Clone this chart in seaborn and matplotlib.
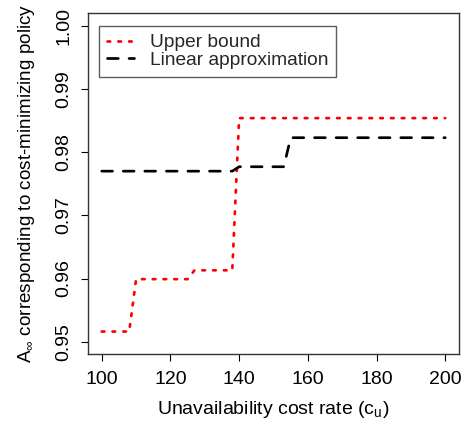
import matplotlib
matplotlib.use("Agg")
import matplotlib.pyplot as plt
import seaborn as sns
import pandas as pd

sns.set_theme(style="ticks")
plt.rcParams['font.family'] = ['Liberation Sans', 'DejaVu Sans']
plt.rcParams['mathtext.fontset'] = 'custom'
plt.rcParams['mathtext.rm'] = 'Liberation Sans'
plt.rcParams['mathtext.it'] = 'Liberation Sans'

# valores (pontos de quebra das escadas)
custo_upper = [100, 108, 110, 125, 127, 138, 140, 200]
disp_upper = [0.9516, 0.9516, 0.9599, 0.9599, 0.9613, 0.9613, 0.9854, 0.9854]

custo_linear = [100, 138, 140, 153, 155, 200]
disp_linear = [0.9770, 0.9770, 0.9777, 0.9777, 0.9823, 0.9823]

xticks = [100, 120, 140, 160, 180, 200]
yticks = [0.95, 0.96, 0.97, 0.98, 0.99, 1.00]

df_upper = pd.DataFrame({"custo": custo_upper, "disp": disp_upper})
df_linear = pd.DataFrame({"custo": custo_linear, "disp": disp_linear})

fig = plt.figure(figsize=(4.69, 4.25), dpi=100)
ax = fig.add_axes([0.1876, 0.1664, 0.7911, 0.8023])

fs = 14
lw = 1.94
sns.lineplot(data=df_upper, x="custo", y="disp", ax=ax, color="#FF0000",
             linewidth=lw, linestyle=(0, (1, 3)), dash_capstyle="round",
             sort=False, estimator=None, label="Upper bound")
sns.lineplot(data=df_linear, x="custo", y="disp", ax=ax, color="black",
             linewidth=lw, linestyle=(0, (4, 4)), dash_capstyle="round",
             sort=False, estimator=None, label="Linear approximation")

ax.set_xlim(96, 204)
ax.set_ylim(0.948, 1.002)
ax.set_xticks(xticks)
ax.set_yticks(yticks)
ax.set_xticklabels([str(v) for v in xticks])
ax.set_yticklabels(["%.2f" % v for v in yticks], rotation=90, va="center")

ax.tick_params(axis="both", direction="out", length=5, width=0.8,
               colors="black", labelsize=fs)
ax.tick_params(axis="x", pad=7)
ax.tick_params(axis="y", pad=6.5)
for s in ax.spines.values():
    s.set_visible(True)
    s.set_color("#333333")
    s.set_linewidth(1.0)

ax.set_xlabel(r"Unavailability cost rate (c$_\mathrm{u}$)", fontsize=fs,
              labelpad=8, color="black")
ax.set_ylabel(r"A$_\infty$ corresponding to cost-minimizing policy",
              fontsize=13.6, labelpad=13, color="black")

leg = ax.legend(loc="upper left", bbox_to_anchor=(0.03, 0.963),
                borderaxespad=0, fontsize=13.8, handlelength=1.42,
                handletextpad=0.8, labelspacing=0.0, borderpad=0.42,
                fancybox=False, frameon=True)
leg.get_frame().set_edgecolor("#333333")
leg.get_frame().set_linewidth(1.0)

fig.savefig("out.png", dpi=100)
